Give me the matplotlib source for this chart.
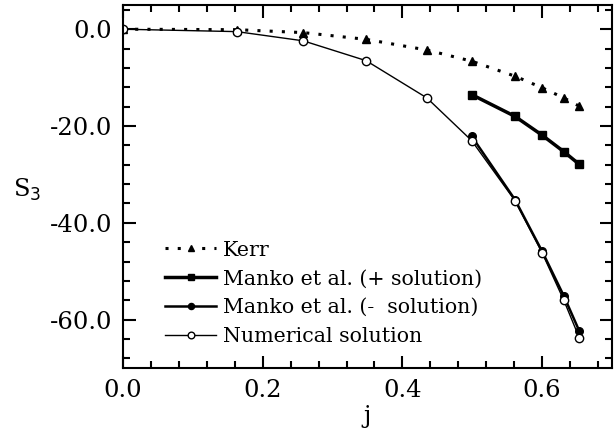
import matplotlib.pyplot as plt
from matplotlib.ticker import MultipleLocator, FormatStrFormatter

# Datos
j_kerr = [0.0, 0.163, 0.258, 0.348, 0.435, 0.499, 0.561, 0.600, 0.631, 0.653]
s3_kerr = [0.0, -0.1, -0.7, -2.1, -4.3, -6.6, -9.7, -12.1, -14.2, -15.9]

j_manko = [0.499, 0.561, 0.600, 0.631, 0.653]
s3_manko_mas = [-13.5, -18.0, -21.9, -25.3, -27.9]
s3_manko_menos = [-22.1, -35.2, -45.9, -55.1, -62.3]

j_num = [0.0, 0.163, 0.258, 0.348, 0.435, 0.499, 0.561, 0.600, 0.631, 0.653]
s3_num = [0.0, -0.5, -2.4, -6.5, -14.2, -23.0, -35.4, -46.2, -56.0, -63.7]

plt.rcParams['font.family'] = 'DejaVu Serif'

fig = plt.figure(figsize=(6.16, 4.34), dpi=100)
ax = fig.add_axes([123 / 616, 1 - 368 / 434, 489 / 616, 363 / 434])

ax.plot(j_kerr, s3_kerr, linestyle=(0, (1, 3)), linewidth=2.2, color='black',
        marker='^', markersize=6, label='Kerr')
ax.plot(j_manko, s3_manko_mas, linestyle='-', linewidth=2.5, color='black',
        marker='s', markersize=5.5, label='Manko et al. (+ solution)')
ax.plot(j_manko, s3_manko_menos, linestyle='-', linewidth=1.8, color='black',
        marker='o', markersize=5.5, label='Manko et al. (-  solution)')
ax.plot(j_num, s3_num, linestyle='-', linewidth=1.0, color='black',
        marker='o', markersize=6, markerfacecolor='white', markeredgewidth=1.0,
        label='Numerical solution')

ax.set_xlim(0, 0.7)
ax.set_ylim(-70, 5)
ax.xaxis.set_major_locator(MultipleLocator(0.2))
ax.xaxis.set_minor_locator(MultipleLocator(0.04))
ax.yaxis.set_major_locator(MultipleLocator(20))
ax.yaxis.set_minor_locator(MultipleLocator(4))
ax.xaxis.set_major_formatter(FormatStrFormatter('%.1f'))
ax.yaxis.set_major_formatter(FormatStrFormatter('%.1f'))

ax.tick_params(which='both', direction='in', top=True, right=True, width=1.5)
ax.tick_params(which='major', length=9, labelsize=17.5, pad=8)
ax.tick_params(which='minor', length=5)
for lado in ax.spines.values():
    lado.set_linewidth(1.5)

ax.set_xlabel('j', fontsize=17.5, labelpad=2)
ax.set_ylabel('S$_3$', fontsize=17.5, rotation=0, va='center', ha='center')
ax.yaxis.set_label_coords(-0.195, 0.49)

ax.legend(loc='lower left', bbox_to_anchor=(0.065, 0.032), frameon=False,
          fontsize=14.8, numpoints=1, handlelength=2.5, handletextpad=0.3,
          labelspacing=0.48, borderpad=0, markerscale=0.8)

plt.savefig('out.png', dpi=100)
plt.close()
